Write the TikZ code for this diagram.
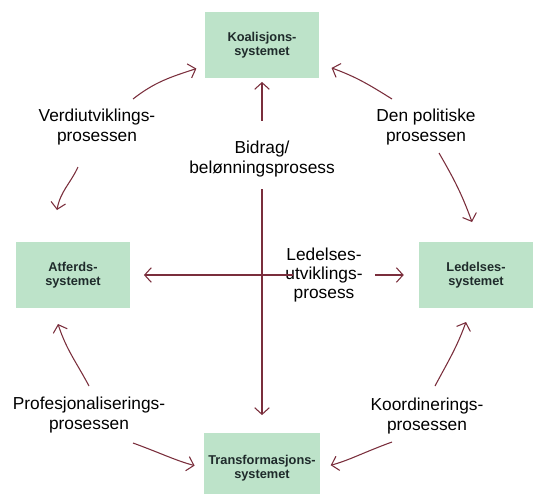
\documentclass[tikz,border=0pt]{standalone}
\usepackage{fontspec}
\setmainfont{Liberation Sans}
\usetikzlibrary{arrows.meta}
\definecolor{boxgreen}{HTML}{BDE3C9}
\definecolor{flowred}{HTML}{7A2E3C}
\definecolor{boxtext}{HTML}{1F2B2B}

\begin{document}
\begin{tikzpicture}[x=0.75pt, y=0.75pt,
        sysbox/.style={fill=boxgreen, minimum width=86pt, minimum height=49pt, align=center, text=boxtext, font=\fontsize{9.6}{10.8}\selectfont\bfseries},
        proc/.style={align=center, font=\fontsize{13}{14.5}\selectfont, inner sep=2pt},
        flow/.style={draw=flowred, line width=0.8pt, -{Straight Barb[length=5pt, width=11pt]}}
    ]
        \useasboundingbox (0,0) rectangle (534,-493);

        % The four systems
        \node[sysbox] (koal) at (262,-45) {Koalisjons-\\systemet};
        \node[sysbox] (atferd) at (73,-275) {Atferds-\\systemet};
        \node[sysbox] (ledelse) at (476,-275) {Ledelses-\\systemet};
        \node[sysbox, minimum height=53pt] (trans) at (262,-468) {Transformasjons-\\systemet};

        % Process labels
        \node[proc] (verdi) at (97,-127) {Verdiutviklings-\\prosessen};
        \node[proc] (politisk) at (426,-127) {Den politiske\\prosessen};
        \node[proc] (prof) at (89,-415) {Profesjonaliserings-\\prosessen};
        \node[proc] (koord) at (427,-416) {Koordinerings-\\prosessen};
        \node[proc] (bidrag) at (262,-159) {Bidrag/\\belønningsprosess};
        \node[proc] (ledutv) at (324,-275) {Ledelses-\\utviklings-\\prosess};

        % End points of the curved arrows
        \coordinate (verdiA) at (133,-99);
        \coordinate (verdiB) at (78,-167);
        \coordinate (verdiC) at (57,-210);
        \coordinate (polA) at (392,-99);
        \coordinate (polB) at (439,-153);
        \coordinate (polC) at (472,-222);
        \coordinate (profA) at (89,-386);
        \coordinate (profB) at (133,-443);
        \coordinate (profC) at (58,-324);
        \coordinate (koordA) at (435,-386);
        \coordinate (koordB) at (392,-442);
        \coordinate (koordC) at (466,-322);

        % Curved arrows round the circle
        \draw[flow] (verdiA) to[out=38, in=198] ([xshift=-6pt, yshift=7pt]koal.south west);
        \draw[flow] (verdiB) to[out=-115, in=80] (verdiC);
        \draw[flow] (polA) to[out=148, in=-20] ([xshift=9pt, yshift=7.5pt]koal.south east);
        \draw[flow] (polB) to[out=-60, in=110] (polC);
        \draw[flow] (profA) to[out=118, in=-72] (profC);
        \draw[flow, shorten >=7pt] (profB) to[out=-20, in=165] (trans.west);
        \draw[flow] (koordA) to[out=62, in=-110] (koordC);
        \draw[flow, shorten >=8pt] (koordB) to[out=200, in=15] (trans.east);

        % Straight arrows through the middle
        \draw[flow, shorten <=13pt, shorten >=3pt] (bidrag.north) -- (koal.south);
        \draw[flow, shorten <=7pt, shorten >=13pt] (bidrag.south) -- (trans.north);
        \draw[flow, shorten <=-8pt, shorten >=10pt] (ledutv.west) -- (atferd.east);
        \draw[flow, shorten <=7pt, shorten >=11pt] (ledutv.east) -- (ledelse.west);
    \end{tikzpicture}
\end{document}
